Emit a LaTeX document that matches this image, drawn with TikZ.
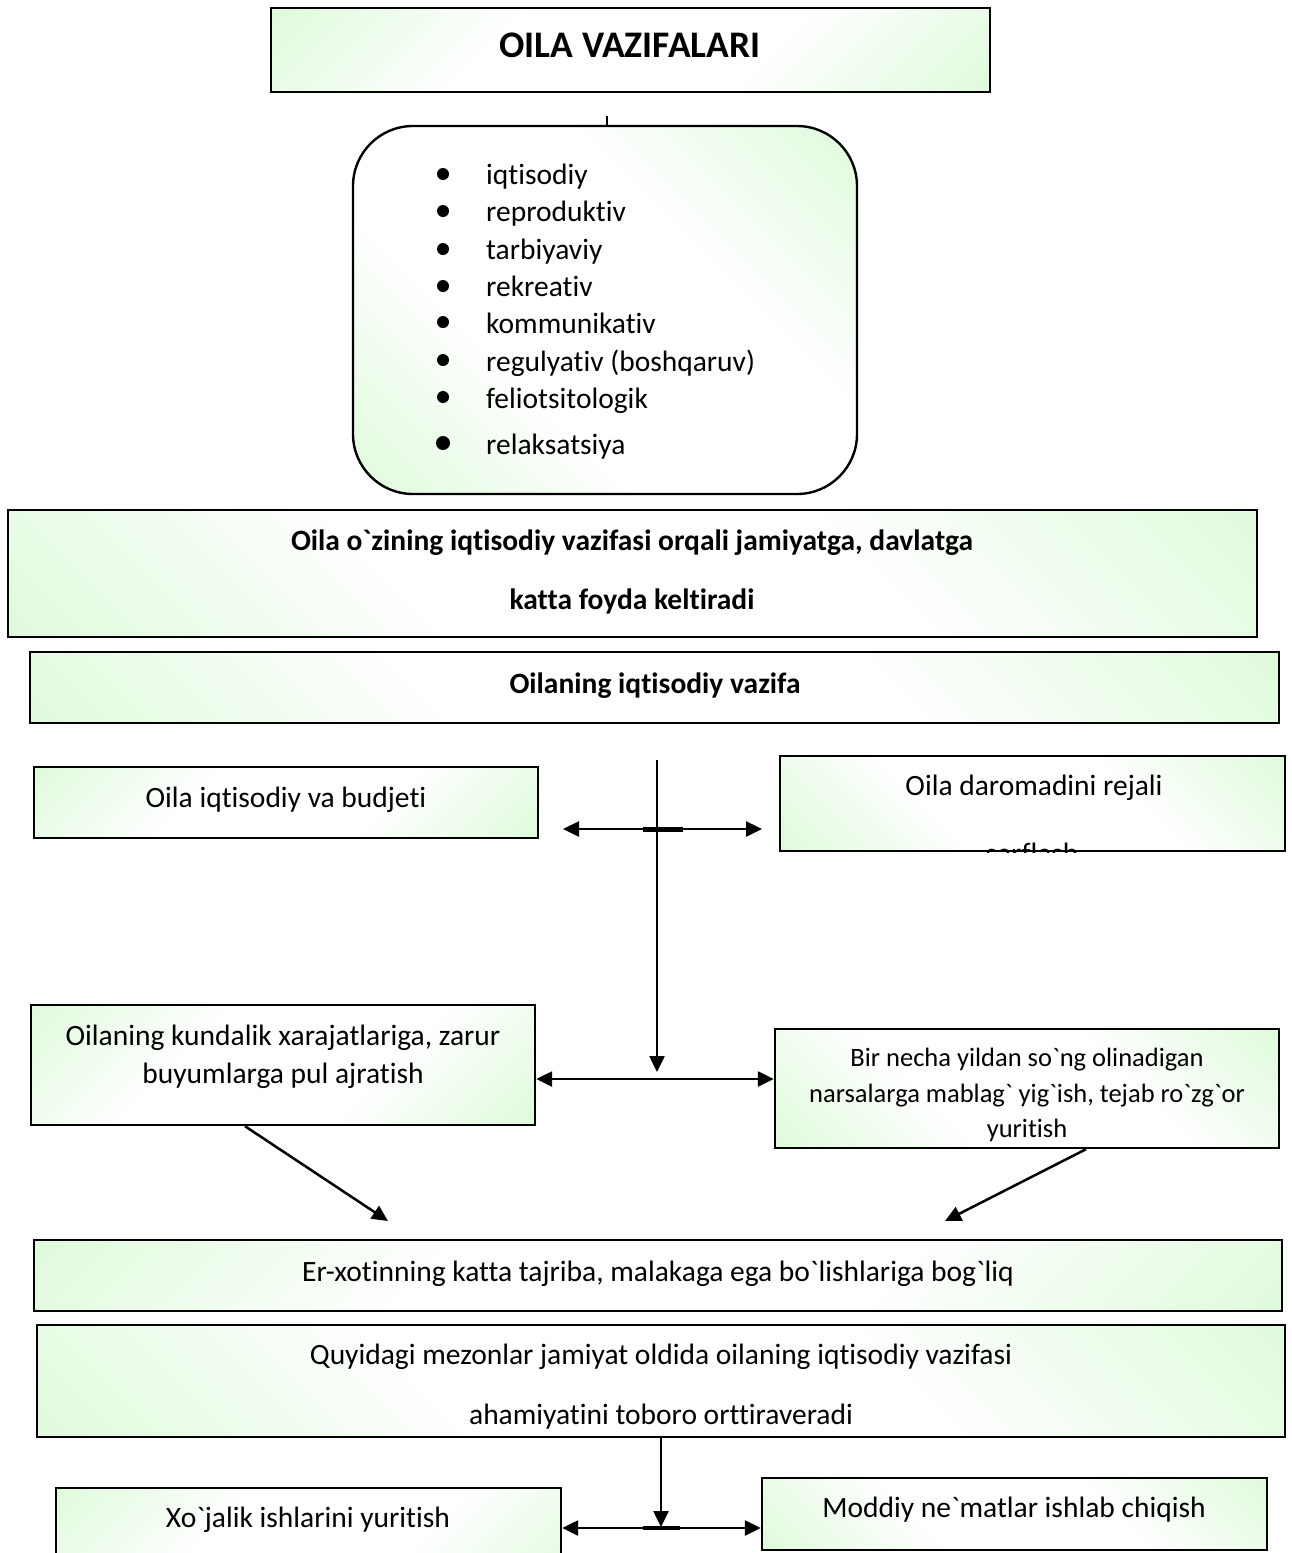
\documentclass[tikz,border=0pt]{standalone}
\usepackage{fontspec}
\newfontfamily\uzfont{Carlito}[Ligatures=NoCommon]
\usetikzlibrary{arrows.meta}
\definecolor{yashil}{RGB}{203,247,197}
\pgfdeclareverticalshading{yashilsoya}{100bp}{color(0bp)=(yashil); color(38bp)=(white); color(62bp)=(white); color(100bp)=(yashil)}

\begin{document}
\begin{tikzpicture}[x=1pt,y=-1pt,
		>={Triangle[length=16pt,width=15pt]},
		quti/.style={draw, line width=2.4pt, shading=yashilsoya, shading angle=#1, inner sep=0},
		quti/.default=45,
		matn/.style={font=\uzfont\fontsize{29.5}{38}\selectfont, align=center, inner sep=0},
		qalin/.style={font=\uzfont\bfseries\fontsize{29.5}{59}\selectfont, align=center, inner sep=0},
		strelka/.style={line width=2.5pt}]
		\useasboundingbox (0,0) rectangle (1292,1553);
		\node[quti, minimum width=719, minimum height=84] (vazifalar) at (630.5,50) {};
		\node[qalin, font=\uzfont\bfseries\fontsize{37.5}{40}\selectfont] (vazifalarlinha) at (630,45) {OILA VAZIFALARI};
		\node[quti=-45, rounded corners=60pt, minimum width=504, minimum height=368] (turlar) at (605,310) {};
		\node[matn, font=\uzfont\fontsize{29.5}{37.3}\selectfont, align=left, anchor=north west] (turlarlinha) at (486,164) {iqtisodiy\\reproduktiv\\tarbiyaviy\\rekreativ\\kommunikativ\\regulyativ (boshqaruv)\\feliotsitologik\\[9pt]relaksatsiya};
		\foreach \y in {174,211,249,286,322,360,397} \fill (443,\y) circle (6pt);
		\fill (443,443) circle (7pt);
		\node[quti=-45, minimum width=1249, minimum height=127] (foyda) at (632.5,573.5) {};
		\node[qalin] (foydalinha) at (632,572) {Oila o`zining iqtisodiy vazifasi orqali jamiyatga, davlatga\\katta foyda keltiradi};
		\node[quti=-45, minimum width=1249, minimum height=71] (iqtvazifa) at (654.5,687.5) {};
		\node[qalin] (iqtvazifalinha) at (655,686) {Oilaning iqtisodiy vazifa};
		\node[quti, minimum width=504, minimum height=71] (budjet) at (286,802.5) {};
		\node[matn] (budjetlinha) at (286,800) {Oila iqtisodiy va budjeti};
		\node[quti=-45, minimum width=505, minimum height=95] (daromad) at (1032.5,803.5) {};
		\node[matn] (daromadlinha) at (1034,788) {Oila daromadini rejali};
		\begin{scope}
			\clip (daromad.south west) rectangle (daromad.north east);
			\node[matn, anchor=base] (sarflash) at (1032,863) {sarflash};
		\end{scope}
		\node[quti, minimum width=504, minimum height=120] (kundalik) at (283,1065) {};
		\node[matn] (kundaliklinha) at (283,1057) {Oilaning kundalik xarajatlariga, zarur\\buyumlarga pul ajratish};
		\node[quti=-45, minimum width=504, minimum height=119] (yigish) at (1027,1088.5) {};
		\node[matn, font=\uzfont\fontsize{26.5}{35.5}\selectfont] (yigishlinha) at (1027,1095) {Bir necha yildan so`ng olinadigan\\narsalarga mablag` yig`ish, tejab ro`zg`or\\yuritish};
		\node[quti, minimum width=1248, minimum height=71] (erxotin) at (658,1275.5) {};
		\node[matn] (erxotinlinha) at (658,1274) {Er-xotinning katta tajriba, malakaga ega bo`lishlariga bog`liq};
		\node[quti=-45, minimum width=1248, minimum height=112] (mezon) at (661,1381) {};
		\node[matn, font=\uzfont\fontsize{29.5}{60}\selectfont] (mezonlinha) at (661,1387) {Quyidagi mezonlar jamiyat oldida oilaning iqtisodiy vazifasi\\ahamiyatini toboro orttiraveradi};
		\node[quti, minimum width=505, minimum height=112] (xojalik) at (308.5,1544) {};
		\node[matn] (xojaliklinha) at (308,1520) {Xo`jalik ishlarini yuritish};
		\node[quti=-45, minimum width=505, minimum height=72] (moddiy) at (1014.5,1514) {};
		\node[matn] (moddiylinha) at (1014,1510) {Moddiy ne`matlar ishlab chiqish};
		\coordinate (tepa) at (607,116);
		\coordinate (bosh1) at (657,760);
		\coordinate (uch1) at (657,1072);
		\coordinate (chap1) at (563,829);
		\coordinate (ong1) at (762,829);
		\coordinate (kesish1) at (657,829);
		\coordinate (kesish2) at (657,1079);
		\coordinate (uch2) at (388,1221);
		\coordinate (uch3) at (945,1221);
		\coordinate (uch4) at (661,1527);
		\coordinate (kesish3) at (661,1528);
		\draw[line width=2pt] (tepa) -- (tepa |- turlar.north);
		\draw[strelka, ->] (bosh1) -- (uch1);
		\draw[strelka, <->] (chap1) -- (ong1);
		\draw[line width=5pt] ([xshift=-14pt]kesish1) -- ([xshift=26pt]kesish1);
		\draw[strelka, <->] (kundalik.east |- kesish2) -- (yigish.west |- kesish2);
		\draw[strelka, ->] ([xshift=-38pt]kundalik.south) -- (uch2);
		\draw[strelka, ->] ([xshift=59pt]yigish.south) -- (uch3);
		\draw[strelka, ->] (mezon.south) -- (uch4);
		\draw[strelka, <->] (xojalik.east |- kesish3) -- (moddiy.west |- kesish3);
		\draw[line width=4pt] ([xshift=-18pt]kesish3) -- ([xshift=19pt]kesish3);
\end{tikzpicture}
\end{document}
